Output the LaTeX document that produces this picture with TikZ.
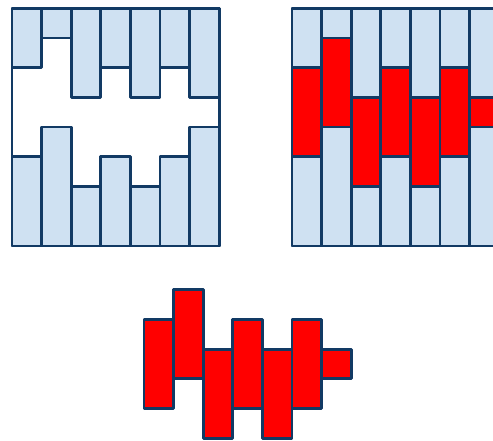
\documentclass[tikz,border=0pt]{standalone}
\definecolor{lightfill}{RGB}{207,225,242}
\definecolor{edgeblue}{RGB}{18,58,100}
\definecolor{barred}{RGB}{255,0,0}
\begin{document}
\begin{tikzpicture}[x=1pt,y=-1pt,
  bluebar/.style={fill=lightfill,draw=edgeblue,line width=2.8pt,line join=round},
  redbar/.style={fill=barred,draw=edgeblue,line width=2.8pt,line join=round},
  frame/.style={draw=edgeblue,line width=2.8pt,line join=round}]
\clip (0,0) rectangle (493,441);
\def\ux{29.6}
\def\uy{29.7}
\def\ty{8.3}
% left panel
\foreach \i/\a/\b in {0/2/5,1/1/4,2/3/6,3/2/5,4/3/6,5/2/5,6/3/4} {
  \draw[bluebar] ({12+\i*\ux},{\ty}) rectangle ({12+(\i+1)*\ux},{\ty+\a*\uy});
  \draw[bluebar] ({12+\i*\ux},{\ty+\b*\uy}) rectangle ({12+(\i+1)*\ux},{\ty+8*\uy});
}
\draw[frame] (12,\ty) rectangle ({12+7*\ux},{\ty+8*\uy});
% right panel
\foreach \i/\a/\b in {0/2/5,1/1/4,2/3/6,3/2/5,4/3/6,5/2/5,6/3/4} {
  \draw[bluebar] ({292+\i*\ux},{\ty}) rectangle ({292+(\i+1)*\ux},{\ty+\a*\uy});
  \draw[bluebar] ({292+\i*\ux},{\ty+\b*\uy}) rectangle ({292+(\i+1)*\ux},{\ty+8*\uy});
  \draw[redbar] ({292+\i*\ux},{\ty+\a*\uy}) rectangle ({292+(\i+1)*\ux},{\ty+\b*\uy});
}
\draw[frame] (292,\ty) rectangle ({292+7*\ux},{\ty+8*\uy});
% bottom pieces
\foreach \i/\a/\b in {0/2/5,1/1/4,2/3/6,3/2/5,4/3/6,5/2/5,6/3/4} {
  \draw[redbar] ({144+\i*\ux},{260+\a*\uy}) rectangle ({144+(\i+1)*\ux},{260+\b*\uy});
}
\end{tikzpicture}
\end{document}
